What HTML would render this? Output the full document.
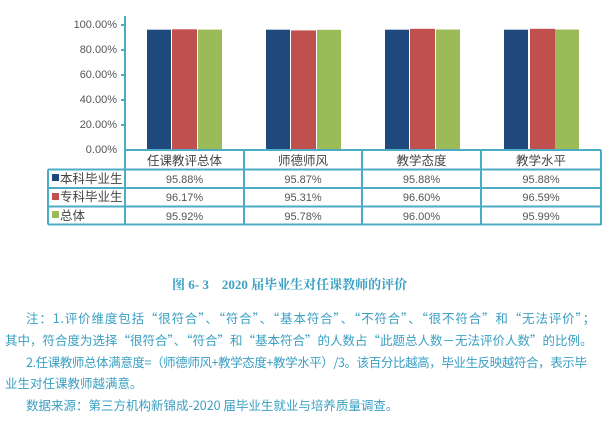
<!DOCTYPE html>
<html><head><meta charset="utf-8"><style>
body{margin:0;width:612px;height:438px;background:#fff;overflow:hidden;position:relative;font-family:"Liberation Sans","Noto Sans CJK SC",sans-serif}
.t{position:absolute;white-space:nowrap}
.note{position:absolute;left:5px;font-family:"Noto Sans CJK SC",sans-serif;font-size:12.5px;color:#3a9fc2;line-height:20px;white-space:nowrap}
</style></head><body>
<svg width="612" height="240" style="position:absolute;left:0;top:0" font-family="Liberation Sans, Noto Sans CJK SC, sans-serif">
<g font-size="11" fill="#555" text-anchor="end">
<text x="117" y="28">100.00%</text><text x="117" y="53">80.00%</text><text x="117" y="78">60.00%</text><text x="117" y="103">40.00%</text><text x="117" y="128">20.00%</text><text x="117" y="153">0.00%</text>
</g>
<g stroke="#4bacc6" stroke-width="2">
<line x1="121" y1="25" x2="125" y2="25"/><line x1="121" y1="50" x2="125" y2="50"/><line x1="121" y1="75" x2="125" y2="75"/><line x1="121" y1="100" x2="125" y2="100"/><line x1="121" y1="125" x2="125" y2="125"/>
</g>
<g>
<rect x="147" y="29.7" width="24" height="120.3" fill="#1f497d"/><rect x="172" y="29.3" width="25" height="120.7" fill="#c0504d"/><rect x="198" y="29.6" width="24" height="120.4" fill="#9bbb59"/>
<rect x="266" y="29.7" width="24" height="120.3" fill="#1f497d"/><rect x="291" y="30.4" width="25" height="119.6" fill="#c0504d"/><rect x="317" y="29.8" width="24" height="120.2" fill="#9bbb59"/>
<rect x="385" y="29.7" width="24" height="120.3" fill="#1f497d"/><rect x="410" y="28.8" width="25" height="121.2" fill="#c0504d"/><rect x="436" y="29.5" width="24" height="120.5" fill="#9bbb59"/>
<rect x="504" y="29.7" width="24" height="120.3" fill="#1f497d"/><rect x="530" y="28.8" width="25" height="121.2" fill="#c0504d"/><rect x="555" y="29.5" width="24" height="120.5" fill="#9bbb59"/>
</g>
<g stroke="#4bacc6" stroke-width="2" fill="none">
<line x1="125" y1="16" x2="125" y2="225"/>
<line x1="125" y1="150" x2="601" y2="150"/>
<line x1="48" y1="169.5" x2="601" y2="169.5"/>
<line x1="48" y1="188" x2="601" y2="188"/>
<line x1="48" y1="206.5" x2="601" y2="206.5"/>
<line x1="48" y1="224.5" x2="601" y2="224.5"/>
<line x1="48" y1="169.5" x2="48" y2="224.5"/>
<line x1="244" y1="150" x2="244" y2="225"/><line x1="362" y1="150" x2="362" y2="225"/><line x1="481" y1="150" x2="481" y2="225"/><line x1="601" y1="150" x2="601" y2="225"/>
</g>
<g font-size="12.5" fill="#444" text-anchor="middle">
<text x="184.5" y="165">任课教评总体</text><text x="303" y="165">师德师风</text><text x="421.5" y="165">教学态度</text><text x="541" y="165">教学水平</text>
</g>
<g font-size="11" fill="#555" text-anchor="middle">
<text x="184.5" y="183">95.88%</text><text x="303" y="183">95.87%</text><text x="421.5" y="183">95.88%</text><text x="541" y="183">95.88%</text>
<text x="184.5" y="201">96.17%</text><text x="303" y="201">95.31%</text><text x="421.5" y="201">96.60%</text><text x="541" y="201">96.59%</text>
<text x="184.5" y="220">95.92%</text><text x="303" y="220">95.78%</text><text x="421.5" y="220">96.00%</text><text x="541" y="220">95.99%</text>
</g>
<rect x="52" y="174" width="7" height="7" fill="#1f497d"/><rect x="52" y="193" width="7" height="7" fill="#c0504d"/><rect x="52" y="211" width="7" height="7" fill="#9bbb59"/>
<g font-size="12.5" fill="#444">
<text x="60" y="183">本科毕业生</text><text x="60" y="201">专科毕业生</text><text x="60" y="220">总体</text>
</g>
</svg>
<div class="t" style="left:172px;top:274px;font-family:'Liberation Serif','Noto Serif CJK SC',serif;font-weight:bold;font-size:13px;color:#3a9fc2">图 6- 3&nbsp;&nbsp;&nbsp;&nbsp;2020 届毕业生对任课教师的评价</div>
<div class="note" style="top:308px;left:26px;letter-spacing:0.85px">注：1.评价维度包括“很符合”、“符合”、“基本符合”、“不符合”、“很不符合”和“无法评价”；</div>
<div class="note" style="top:330px">其中，符合度为选择“很符合”、“符合”和“基本符合”的人数占“此题总人数－无法评价人数”的比例。</div>
<div class="note" style="top:352px;left:26px;letter-spacing:-0.4px">2.任课教师总体满意度=（师德师风+教学态度+教学水平）/3。该百分比越高，毕业生反映越符合，表示毕</div>
<div class="note" style="top:373px">业生对任课教师越满意。</div>
<div class="note" style="top:395px;left:26px">数据来源：第三方机构新锦成-2020 届毕业生就业与培养质量调查。</div>
</body></html>
